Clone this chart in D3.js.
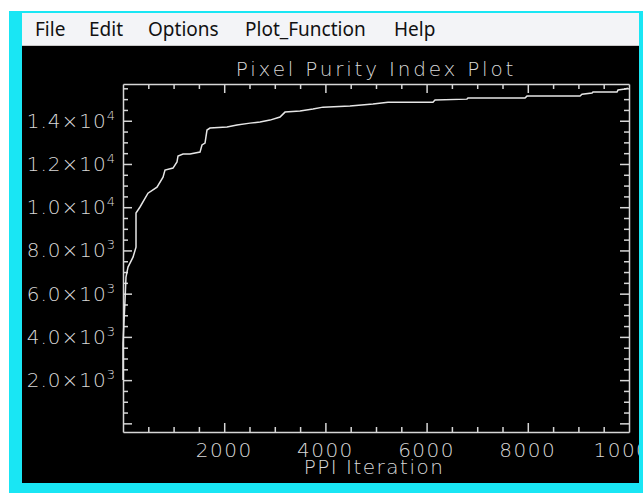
<!DOCTYPE html>
<html>
<head>
<meta charset="utf-8">
<script src="https://cdn.jsdelivr.net/npm/d3@7"></script>
<style>
  body { margin: 0; background: #fff; }
  svg { display: block; }
  .menu text { font-family: "Noto Sans", "Open Sans", sans-serif; font-size: 19px; fill: #111; }
  .plot text { font-family: "DejaVu Sans", sans-serif; font-weight: 300; fill: #d8d8d8; }
</style>
</head>
<body>
<svg></svg>
<script>
const menuItems = ["File", "Edit", "Options", "Plot_Function", "Help"];
const menuX = [35, 89, 148, 245, 394];

// PPI curve
const iterations = [0, 0, 40, 59, 99, 198, 257, 257, 336, 494, 672, 791, 830, 988, 1067, 1087,
  1186, 1265, 1324, 1522, 1561, 1621, 1660, 1719, 2055, 2253, 2510, 2708, 2905, 3103, 3202,
  3498, 3755, 3953, 4486, 4941, 5237, 6126, 6166, 6798, 6818, 7945, 7984, 9032, 9071, 9269,
  9289, 9763, 9783, 9921, 9980];
const pixelCounts = [2000, 3710, 5700, 6770, 7230, 7690, 8150, 9730, 10010, 10650, 10930, 11390,
  11720, 11810, 12090, 12370, 12460, 12460, 12460, 12550, 12880, 12970, 13570, 13660, 13710,
  13800, 13890, 13940, 14030, 14170, 14400, 14450, 14540, 14630, 14680, 14770, 14860, 14860,
  14960, 15000, 15050, 15050, 15140, 15140, 15230, 15280, 15330, 15330, 15420, 15470, 15510];

const xTicks = [2000, 4000, 6000, 8000, 10000];
const yTicks = [2000, 4000, 6000, 8000, 10000, 12000, 14000];
const yTickMantissa = ["2.0", "4.0", "6.0", "8.0", "1.0", "1.2", "1.4"];
const yTickExponent = ["3", "3", "3", "3", "4", "4", "4"];

const svg = d3.select("svg").attr("width", 643).attr("height", 493);

// window frame
svg.append("rect").attr("x", 9).attr("y", 11).attr("width", 634).attr("height", 482).attr("fill", "#19e6f4");
const menu = svg.append("g").attr("class", "menu");
menu.append("rect").attr("x", 22).attr("y", 13).attr("width", 617).attr("height", 33).attr("fill", "#f3f4f7");
menu.append("rect").attr("x", 22).attr("y", 45).attr("width", 617).attr("height", 1).attr("fill", "#c8c8c8");
menu.selectAll("text").data(menuItems).join("text")
  .attr("x", (d, i) => menuX[i]).attr("y", 36).text((d) => d);

svg.append("rect").attr("x", 22).attr("y", 46).attr("width", 617).attr("height", 437).attr("fill", "#000");
svg.append("clipPath").attr("id", "win").append("rect")
  .attr("x", 22).attr("y", 46).attr("width", 617).attr("height", 437);

const plot = svg.append("g").attr("class", "plot").attr("clip-path", "url(#win)");

const margin = { left: 123, right: 629, top: 84, bottom: 432 };
const xScale = d3.scaleLinear().domain([0, 10000]).range([margin.left, margin.right]);
const yScale = d3.scaleLinear().domain([-400, 15700]).range([margin.bottom, margin.top]);

const axisColor = "#d6d6d6";
const xMinor = d3.range(500, 10000, 500);
const yMinor = d3.range(0, 15700, 500);

const tickLen = (v) => (v % 2000 === 0 ? 9 : 5);

// bottom, top, left, right axes (ticks point inward)
const xAxisB = d3.axisTop(xScale).tickValues(xMinor).tickFormat("").tickSizeOuter(0);
const xAxisT = d3.axisBottom(xScale).tickValues(xMinor).tickFormat("").tickSizeOuter(0);
const yAxisL = d3.axisRight(yScale).tickValues(yMinor).tickFormat("").tickSizeOuter(0);
const yAxisR = d3.axisLeft(yScale).tickValues(yMinor).tickFormat("").tickSizeOuter(0);

const styleAxis = (g, sign, dir) => {
  g.select(".domain").attr("stroke", axisColor).attr("stroke-width", 1.5);
  g.selectAll(".tick line").attr("stroke", axisColor).attr("stroke-width", 1.5)
    .attr(dir, (d) => sign * tickLen(d));
};

plot.append("g").attr("transform", `translate(0,${margin.bottom})`).call(xAxisB).call(styleAxis, -1, "y2");
plot.append("g").attr("transform", `translate(0,${margin.top})`).call(xAxisT).call(styleAxis, 1, "y2");
plot.append("g").attr("transform", `translate(${margin.left},0)`).call(yAxisL).call(styleAxis, 1, "x2");
plot.append("g").attr("transform", `translate(${margin.right},0)`).call(yAxisR).call(styleAxis, -1, "x2");

// tick labels
plot.selectAll(".xlab").data(xTicks).join("text").attr("class", "xlab")
  .attr("x", (d) => xScale(d)).attr("y", 457).attr("text-anchor", "middle")
  .attr("font-size", 20).attr("letter-spacing", 1.5).text((d) => d);

const ylab = plot.selectAll(".ylab").data(yTicks).join("text").attr("class", "ylab")
  .attr("x", 116).attr("y", (d) => yScale(d) + 7).attr("text-anchor", "end")
  .attr("font-size", 20).attr("letter-spacing", 1);
ylab.append("tspan").text((d, i) => yTickMantissa[i] + "\u00d710");
ylab.append("tspan").attr("dy", -8).attr("font-size", 13).text((d, i) => yTickExponent[i]);

plot.append("text").attr("x", 376).attr("y", 76).attr("text-anchor", "middle")
  .attr("font-size", 20).attr("letter-spacing", 2.8).text("Pixel Purity Index Plot");
plot.append("text").attr("x", 374).attr("y", 474).attr("text-anchor", "middle")
  .attr("font-size", 20).attr("letter-spacing", 1.5).text("PPI Iteration");

// curve
const line = d3.line().x((d) => xScale(d[0])).y((d) => yScale(d[1]));
plot.append("path")
  .attr("d", line(iterations.map((v, i) => [v, pixelCounts[i]])))
  .attr("fill", "none").attr("stroke", "#e6e6e6").attr("stroke-width", 1.5);
</script>
</body>
</html>
